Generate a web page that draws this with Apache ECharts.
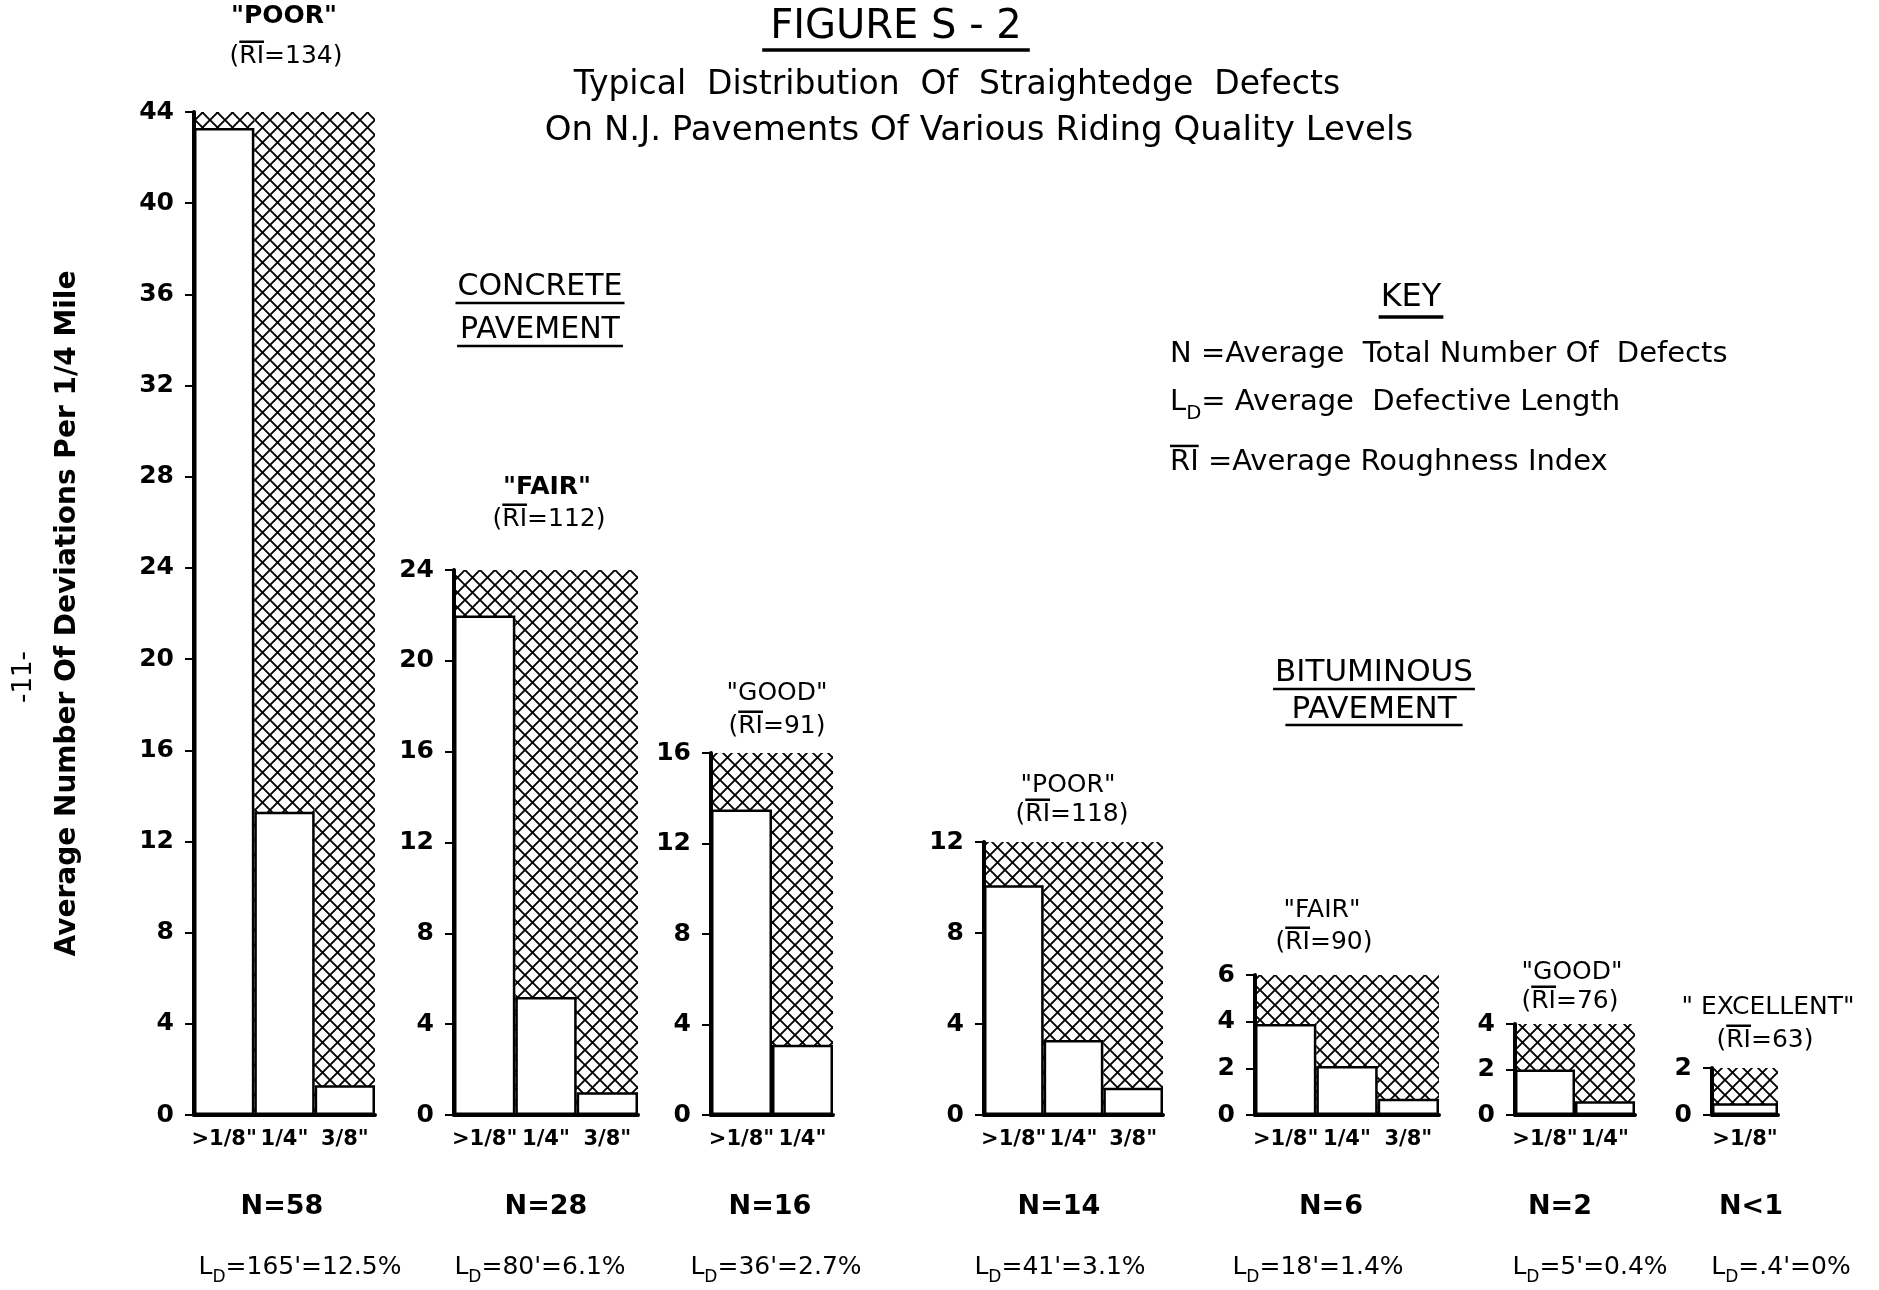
<!DOCTYPE html>
<html>
<head>
<meta charset="utf-8">
<script src="https://cdn.jsdelivr.net/npm/echarts@6/dist/echarts.min.js"></script>
<style>
html,body{margin:0;padding:0;background:#fff;}
#chart{width:1879px;height:1290px;}
</style>
</head>
<body>
<div id="chart"></div>
<script>
// ---------------- DATA ----------------
const catsThree = ['>1/8"', '1/4"', '3/8"'];
const catsTwo = ['>1/8"', '1/4"'];
const catsOne = ['>1/8"'];

const concretePoor = [43.3, 13.3, 1.3];
const concreteFair = [22.0, 5.2, 1.0];
const concreteGood = [13.5, 3.1];
const bituminousPoor = [10.1, 3.3, 1.2];
const bituminousFair = [3.9, 2.1, 0.7];
const bituminousGood = [2.0, 0.6];
const bituminousExcellent = [0.5];

const axisMax = [44, 24, 16, 12, 6, 4, 2];
const axisInterval = [4, 4, 4, 4, 2, 2, 2];

const ratingLabels = ['"POOR"', '"FAIR"', '"GOOD"', '"POOR"', '"FAIR"', '"GOOD"', '" EXCELLENT"'];
const riValues = ['134', '112', '91', '118', '90', '76', '63'];
const nLabels = ['N=58', 'N=28', 'N=16', 'N=14', 'N=6', 'N=2', 'N<1'];
const ldValues = ["165'=12.5%", "80'=6.1%", "36'=2.7%", "41'=3.1%", "18'=1.4%", "5'=0.4%", ".4'=0%"];

const titleText = 'FIGURE S - 2';
const subtitleLines = ['Typical  Distribution  Of  Straightedge  Defects', 'On N.J. Pavements Of Various Riding Quality Levels'];
const yAxisName = 'Average Number Of Deviations Per 1/4 Mile';
const groupLabels = [['CONCRETE', 'PAVEMENT'], ['BITUMINOUS', 'PAVEMENT']];
const keyTitle = 'KEY';
const keyN = 'N =Average  Total Number Of  Defects';
const keyLD = '= Average  Defective Length';
const keyRI = '=Average Roughness Index';
const pageNumber = '-11-';

const panels = [
  {cats: catsThree, values: concretePoor},
  {cats: catsThree, values: concreteFair},
  {cats: catsTwo, values: concreteGood},
  {cats: catsThree, values: bituminousPoor},
  {cats: catsThree, values: bituminousFair},
  {cats: catsTwo, values: bituminousGood},
  {cats: catsOne, values: bituminousExcellent}
];

// ---------------- LAYOUT / STYLE ----------------
const FONT = '"DejaVu Sans", "Liberation Sans", sans-serif';
const grids = [
  {left: 194, top: 112, width: 181, height: 1003},
  {left: 454, top: 570, width: 184, height: 545},
  {left: 711, top: 753, width: 122, height: 362},
  {left: 984, top: 842, width: 179, height: 273},
  {left: 1255, top: 975, width: 184, height: 140},
  {left: 1515, top: 1024, width: 120, height: 91},
  {left: 1712, top: 1068, width: 66, height: 47}
];
const ratingPos = [[284, 16], [547, 487], [777, 693], [1068, 785], [1322, 910], [1572, 972], [1768, 1007]];
const riPos = [[286, 56], [549, 519], [777, 726], [1072, 814], [1324, 942], [1570, 1001], [1765, 1040]];
const nPos = [282, 546, 770, 1059, 1331, 1560, 1751];
const ldPos = [300, 540, 776, 1060, 1318, 1590, 1781];

function makeHatch() {
  const s = 15;
  const c = document.createElement('canvas');
  c.width = s; c.height = s;
  const g = c.getContext('2d');
  g.fillStyle = '#fff';
  g.fillRect(0, 0, s, s);
  g.strokeStyle = '#000';
  g.lineWidth = 1.9;
  g.beginPath();
  for (const k of [-s, 0, s]) {
    g.moveTo(k, 0); g.lineTo(k + s, s);
    g.moveTo(k + s, 0); g.lineTo(k, s);
  }
  g.stroke();
  return c;
}
const hatch = {image: makeHatch(), repeat: 'repeat'};

const mctx = document.createElement('canvas').getContext('2d');
function textWidth(text, size, bold) {
  mctx.font = (bold ? 'bold ' : '') + size + 'px ' + FONT;
  return mctx.measureText(text).width;
}

const graphics = [];
function addText(x, y, text, size, opts) {
  opts = opts || {};
  graphics.push({
    type: 'text', x: x, y: y, rotation: opts.rot || 0, z: 100,
    style: {
      text: text, fill: '#000', fontSize: size, fontFamily: FONT,
      fontWeight: opts.bold ? 'bold' : 'normal',
      textAlign: opts.align || 'center', textVerticalAlign: 'middle'
    }
  });
}
function addLine(x1, y1, x2, y2, w) {
  graphics.push({type: 'line', z: 100, shape: {x1: x1, y1: y1, x2: x2, y2: y2}, style: {stroke: '#000', lineWidth: w}});
}
function underlined(x, y, text, size, bold, dy, lw, extra) {
  addText(x, y, text, size, {bold: bold});
  const w = textWidth(text, size, bold) + (extra || 0);
  addLine(x - w / 2, y + dy, x + w / 2, y + dy, lw);
}
// "(RI=nnn)" with overline on RI
function riLabel(x, y, val, size) {
  const full = '(RI=' + val + ')';
  addText(x, y, full, size);
  const w = textWidth(full, size, false);
  const x0 = x - w / 2;
  const a = x0 + textWidth('(', size, false);
  const b = x0 + textWidth('(RI', size, false);
  addLine(a, y - size * 0.45 - 3, b, y - size * 0.45 - 3, 2.5);
}
function ldLabel(x, y, rest, size, align) {
  graphics.push({
    type: 'text', x: x, y: y, z: 100,
    style: {
      text: '{a|L}{b|D}{a|' + rest + '}',
      textAlign: align || 'center', textVerticalAlign: 'middle',
      rich: {
        a: {fontSize: size, fontFamily: FONT, fill: '#000', color: '#000', lineHeight: size * 1.5, verticalAlign: 'middle'},
        b: {fontSize: size * 0.68, fontFamily: FONT, fill: '#000', color: '#000', verticalAlign: 'bottom'}
      }
    }
  });
}

// Title block
underlined(896, 28, titleText, 40, false, 22, 3.5, 16);
addText(957, 85, subtitleLines[0], 33);
addText(979, 131, subtitleLines[1], 34);

// Group labels
underlined(540, 287, groupLabels[0][0], 30, false, 16, 2.5, 4);
underlined(540, 330, groupLabels[0][1], 30, false, 16, 2.5, 6);
underlined(1374, 673, groupLabels[1][0], 31, false, 16, 2.5, 4);
underlined(1374, 710, groupLabels[1][1], 31, false, 15, 2.5, 12);

// Rating labels, N and L_D labels
for (let i = 0; i < 7; i++) {
  addText(ratingPos[i][0], ratingPos[i][1], ratingLabels[i], 25, {bold: i === 0 || i === 1});
  riLabel(riPos[i][0], riPos[i][1], riValues[i], 25);
  addText(nPos[i], 1207, nLabels[i], 27, {bold: true});
  ldLabel(ldPos[i], 1267, '=' + ldValues[i], 25);
}

// Key
underlined(1411, 298, keyTitle, 32, false, 19, 3.5, 4);
addText(1170, 354, keyN, 29, {align: 'left'});
ldLabel(1170, 402, keyLD, 29, 'left');
(function () {
  const size = 29;
  addText(1170, 462, 'RI ' + keyRI, size, {align: 'left'});
  const b = 1170 + textWidth('RI', size, false);
  addLine(1170, 462 - size * 0.45 - 3, b, 462 - size * 0.45 - 3, 2.5);
})();

// Page number
addText(24, 677, pageNumber, 26, {rot: Math.PI / 2});

// ---------------- OPTION ----------------
const option = {
  backgroundColor: '#fff',
  animation: false,
  grid: grids.map(g => Object.assign({outerBoundsMode: 'none', containLabel: false}, g)),
  xAxis: panels.map((p, i) => ({
    type: 'category', gridIndex: i, data: p.cats, z: 10,
    axisLine: {lineStyle: {color: '#000', width: 4}},
    axisTick: {show: false},
    axisLabel: {interval: 0, color: '#000', fontSize: 21, fontWeight: 'bold', fontFamily: FONT, margin: 14, hideOverlap: false}
  })),
  yAxis: panels.map((p, i) => Object.assign({
    type: 'value', gridIndex: i, min: 0, max: axisMax[i], interval: axisInterval[i], z: 10,
    axisLine: {show: true, lineStyle: {color: '#000', width: 4}},
    axisTick: {show: true, length: 9, lineStyle: {color: '#000', width: 2}},
    axisLabel: {color: '#000', fontSize: 25, fontWeight: 'bold', fontFamily: FONT, margin: 20},
    splitLine: {show: false}
  }, i === 0 ? {
    name: yAxisName, nameLocation: 'middle', nameGap: 112, nameRotate: 90,
    nameTextStyle: {color: '#000', fontSize: 28, fontWeight: 'bold', fontFamily: FONT}
  } : {})),
  series: []
};
panels.forEach((p, i) => {
  option.series.push({
    type: 'bar', xAxisIndex: i, yAxisIndex: i, silent: true, z: 1,
    data: p.cats.map(() => axisMax[i]),
    barGap: '-100%', barCategoryGap: '0%',
    itemStyle: {color: hatch}
  });
  option.series.push({
    type: 'bar', xAxisIndex: i, yAxisIndex: i, z: 2,
    data: p.values,
    barGap: '-100%', barCategoryGap: '0%',
    itemStyle: {color: '#fff', borderColor: '#000', borderWidth: 2.5}
  });
});
option.graphic = {elements: graphics};

const chart = echarts.init(document.getElementById('chart'), null, {renderer: 'canvas'});
chart.setOption(option);
</script>
</body>
</html>
